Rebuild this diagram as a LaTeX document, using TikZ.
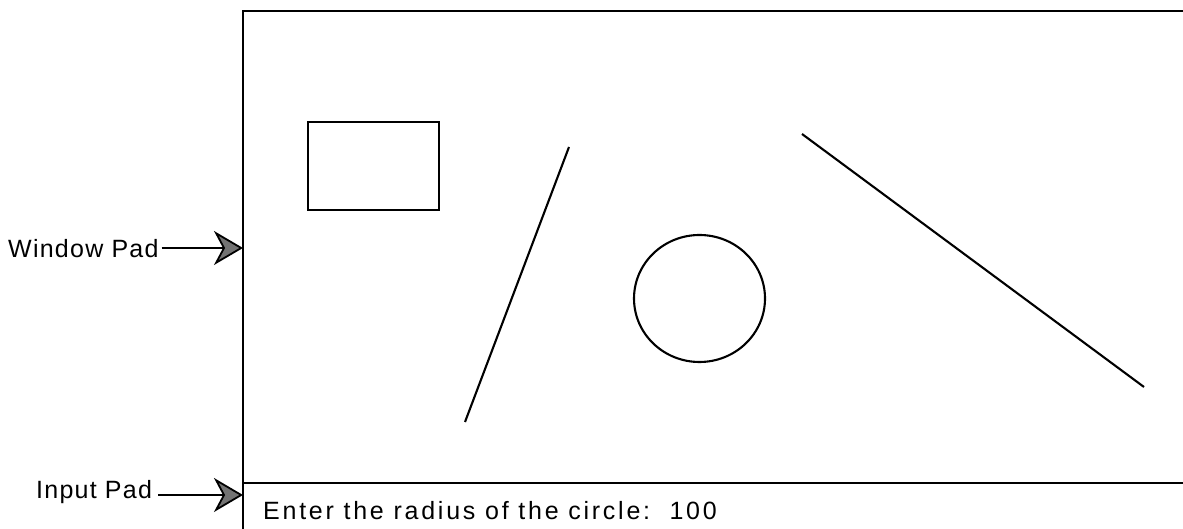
\documentclass[tikz,border=0pt]{standalone}
\usepackage{fontspec}
\setmainfont{Liberation Sans}[LetterSpace=5]
\newfontfamily\enterfont{Liberation Sans}[LetterSpace=11]
\usetikzlibrary{arrows.meta,shapes.geometric}
\tikzset{
  frameline/.style={line width=2.4pt},
  shapeline/.style={line width=2.1pt},
  padarrow/.style={line width=1.8pt, -{Stealth[length=29pt, width=34pt, inset=9pt, fill=black!55]}},
  padlabel/.style={inner sep=0pt, anchor=base west, font=\fontsize{25pt}{29pt}\selectfont},
}
\begin{document}
\begin{tikzpicture}[x=1pt,y=1pt]
\useasboundingbox (0,0) rectangle (1183,529);
% window frame
\coordinate (fbl) at (243,0);
\coordinate (ftl) at (243,518);
\coordinate (ftr) at (1183,518);
\coordinate (dl) at (243,46);
\coordinate (dr) at (1183,46);
\draw[frameline] (fbl) -- (ftl) -- (ftr);
\draw[frameline] (dl) -- (dr);
% shapes in window pad
\node[draw, shapeline, minimum width=131pt, minimum height=88pt, inner sep=0pt] (rect) at (373.5,363) {};
\coordinate (l1a) at (569,382);
\coordinate (l1b) at (465,107);
\draw[shapeline] (l1a) -- (l1b);
\node[draw, shapeline, ellipse, minimum width=131pt, minimum height=127pt, inner sep=0pt] (circ) at (699.5,230.5) {};
\coordinate (l2a) at (802,395);
\coordinate (l2b) at (1144,142);
\draw[shapeline] (l2a) -- (l2b);
% labels
\node[padlabel] (wlabel) at (8,271) {Window Pad};
\node[padlabel] (ilabel) at (36,30) {Input Pad};
\node[padlabel, font=\fontsize{25pt}{29pt}\enterfont] (enter) at (263,9) {Enter the radius of the circle:~~100};
% arrows
\coordinate (wtip) at (243,281);
\coordinate (itip) at (243,34);
\path ([xshift=3pt]wlabel.base east) coordinate (wst0);
\path ([xshift=6pt]ilabel.base east) coordinate (ist0);
\draw[padarrow] (wst0 |- wtip) -- (wtip);
\draw[padarrow] (ist0 |- itip) -- (itip);
\end{tikzpicture}
\end{document}
